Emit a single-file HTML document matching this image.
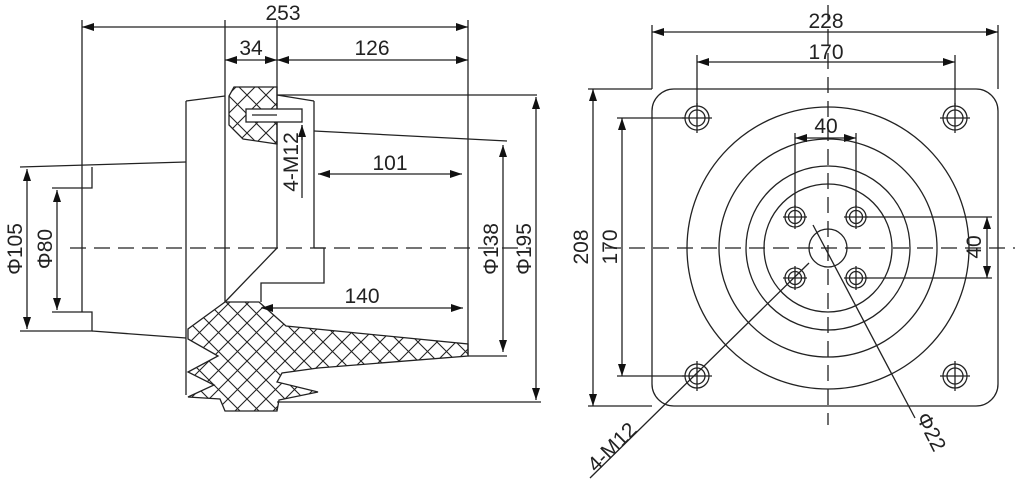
<!DOCTYPE html>
<html><head><meta charset="utf-8"><style>
html,body{margin:0;padding:0;background:#fff;}
svg{display:block;}
text{font-family:"Liberation Sans",sans-serif;font-size:21px;fill:#222;}
</style></head><body>
<svg width="1024" height="488" viewBox="0 0 1024 488" xmlns="http://www.w3.org/2000/svg">
<defs>
<marker id="a" viewBox="0 0 12 8" refX="12" refY="4" markerWidth="12" markerHeight="8" markerUnits="userSpaceOnUse" orient="auto-start-reverse"><path d="M0,0 L12,4 L0,8 Z" fill="#111"/></marker>
<pattern id="h" width="19" height="19" patternUnits="userSpaceOnUse">
<path d="M0,0 L19,19 M19,0 L0,19" stroke="#222" stroke-width="1.1"/></pattern>
</defs>
<g stroke="#222" stroke-width="1.3" fill="none">
<line x1="70" y1="248" x2="530" y2="248" stroke-dasharray="16,8"/>
<line x1="82" y1="20" x2="82" y2="312"/>
<polyline points="20,167 186,162"/>
<polyline points="92,167 92,188 52,188"/>
<polyline points="52,312 92,312 92,331 20,331"/>
<line x1="92" y1="331" x2="186" y2="338"/>
<line x1="186" y1="101" x2="186" y2="395"/>
<line x1="186" y1="101" x2="225" y2="96"/>
<line x1="225" y1="20" x2="225" y2="302"/>
<line x1="277" y1="20" x2="277" y2="248"/>
<path d="M234,87 L277,87 L277,144 L243,139 L229,125 L229,96 Z" fill="url(#h)"/>
<rect x="246" y="109" width="56" height="13" fill="#fff"/>
<line x1="252" y1="115" x2="277" y2="115"/>
<line x1="302" y1="125" x2="302" y2="198"/>
<line x1="302" y1="140" x2="302" y2="125" marker-end="url(#a)"/>
<line x1="277" y1="95" x2="314" y2="101"/>
<line x1="314" y1="101" x2="314" y2="248"/>
<line x1="314" y1="131" x2="507" y2="141"/>
<line x1="277" y1="95" x2="537" y2="95"/>
<polyline points="314,248 324,248 324,283 261,283 261,302"/>
<line x1="277" y1="248" x2="225" y2="302"/>
<line x1="468" y1="20" x2="468" y2="356"/>
<line x1="468" y1="356" x2="507" y2="356"/>
<line x1="277" y1="402" x2="541" y2="402"/>
<path d="M225,302 L259,302 L286,326 L468,344 L468,356 L318,368 L282,373 L277,382 L318,392 L279,400 L277,411 L225,411 L220,399 L188,397 L214,385 L188,372 L218,356 L188,339 L188,329 Z" fill="url(#h)"/>
<line x1="82" y1="27" x2="468" y2="27" marker-start="url(#a)" marker-end="url(#a)"/>
<line x1="225" y1="60" x2="277" y2="60" marker-start="url(#a)" marker-end="url(#a)"/>
<line x1="277" y1="60" x2="468" y2="60" marker-start="url(#a)" marker-end="url(#a)"/>
<line x1="318" y1="174" x2="462" y2="174" marker-start="url(#a)" marker-end="url(#a)"/>
<line x1="261" y1="308" x2="463" y2="308" marker-start="url(#a)" marker-end="url(#a)"/>
<line x1="503" y1="145" x2="503" y2="352" marker-start="url(#a)" marker-end="url(#a)"/>
<line x1="536" y1="97" x2="536" y2="400" marker-start="url(#a)" marker-end="url(#a)"/>
<line x1="27" y1="169" x2="27" y2="329" marker-start="url(#a)" marker-end="url(#a)"/>
<line x1="57" y1="190" x2="57" y2="310" marker-start="url(#a)" marker-end="url(#a)"/>
<rect x="652" y="89" width="346" height="317" rx="22"/>
<line x1="828" y1="5" x2="828" y2="425" stroke-dasharray="16,8"/>
<line x1="605" y1="248" x2="1015" y2="248" stroke-dasharray="16,8"/>
<circle cx="828" cy="248" r="141"/>
<circle cx="828" cy="248" r="109"/>
<circle cx="828" cy="248" r="82"/>
<circle cx="828" cy="248" r="64"/>
<circle cx="828" cy="248" r="19"/>
<g><circle cx="697" cy="118" r="12"/><circle cx="697" cy="118" r="8"/><line x1="682" y1="118" x2="712" y2="118"/><line x1="697" y1="103" x2="697" y2="133"/></g>
<g><circle cx="955" cy="118" r="12"/><circle cx="955" cy="118" r="8"/><line x1="940" y1="118" x2="970" y2="118"/><line x1="955" y1="103" x2="955" y2="133"/></g>
<g><circle cx="697" cy="376" r="12"/><circle cx="697" cy="376" r="8"/><line x1="682" y1="376" x2="712" y2="376"/><line x1="697" y1="361" x2="697" y2="391"/></g>
<g><circle cx="955" cy="376" r="12"/><circle cx="955" cy="376" r="8"/><line x1="940" y1="376" x2="970" y2="376"/><line x1="955" y1="361" x2="955" y2="391"/></g>
<g><circle cx="795" cy="217" r="10"/><circle cx="795" cy="217" r="6.5"/><line x1="783" y1="217" x2="807" y2="217"/><line x1="795" y1="205" x2="795" y2="229"/></g>
<g><circle cx="856" cy="217" r="10"/><circle cx="856" cy="217" r="6.5"/><line x1="844" y1="217" x2="868" y2="217"/><line x1="856" y1="205" x2="856" y2="229"/></g>
<g><circle cx="795" cy="278" r="10"/><circle cx="795" cy="278" r="6.5"/><line x1="783" y1="278" x2="807" y2="278"/><line x1="795" y1="266" x2="795" y2="290"/></g>
<g><circle cx="856" cy="278" r="10"/><circle cx="856" cy="278" r="6.5"/><line x1="844" y1="278" x2="868" y2="278"/><line x1="856" y1="266" x2="856" y2="290"/></g>
<line x1="652" y1="89" x2="652" y2="25"/><line x1="998" y1="89" x2="998" y2="25"/>
<line x1="652" y1="32" x2="998" y2="32" marker-start="url(#a)" marker-end="url(#a)"/>
<line x1="697" y1="106" x2="697" y2="55"/><line x1="955" y1="106" x2="955" y2="55"/>
<line x1="697" y1="62" x2="955" y2="62" marker-start="url(#a)" marker-end="url(#a)"/>
<line x1="795" y1="207" x2="795" y2="133"/><line x1="856" y1="207" x2="856" y2="133"/>
<line x1="795" y1="138" x2="856" y2="138" marker-start="url(#a)" marker-end="url(#a)"/>
<line x1="652" y1="89" x2="588" y2="89"/><line x1="652" y1="406" x2="588" y2="406"/>
<line x1="593" y1="89" x2="593" y2="406" marker-start="url(#a)" marker-end="url(#a)"/>
<line x1="685" y1="118" x2="617" y2="118"/><line x1="685" y1="376" x2="617" y2="376"/>
<line x1="622" y1="118" x2="622" y2="376" marker-start="url(#a)" marker-end="url(#a)"/>
<line x1="866" y1="217" x2="992" y2="217"/><line x1="866" y1="278" x2="992" y2="278"/>
<line x1="987" y1="217" x2="987" y2="278" marker-start="url(#a)" marker-end="url(#a)"/>
<line x1="809" y1="263" x2="590" y2="478"/>
<line x1="813" y1="225" x2="915" y2="418"/>
</g>
<g>
<text x="283" y="20" text-anchor="middle">253</text>
<text x="251" y="55" text-anchor="middle">34</text>
<text x="372" y="55" text-anchor="middle">126</text>
<text x="390" y="170" text-anchor="middle">101</text>
<text x="362" y="303" text-anchor="middle">140</text>
<text transform="translate(298,162) rotate(-90)" text-anchor="middle">4-M12</text>
<text transform="translate(22,249) rotate(-90)" text-anchor="middle">Φ105</text>
<text transform="translate(52,249) rotate(-90)" text-anchor="middle">Φ80</text>
<text transform="translate(498,249) rotate(-90)" text-anchor="middle">Φ138</text>
<text transform="translate(531,249) rotate(-90)" text-anchor="middle">Φ195</text>
<text x="826" y="28" text-anchor="middle">228</text>
<text x="826" y="59" text-anchor="middle">170</text>
<text x="826" y="133" text-anchor="middle">40</text>
<text transform="translate(588,247) rotate(-90)" text-anchor="middle">208</text>
<text transform="translate(617,247) rotate(-90)" text-anchor="middle">170</text>
<text transform="translate(981,247) rotate(-90)" text-anchor="middle">40</text>
<text transform="translate(617,452) rotate(-45)" text-anchor="middle">4-M12</text>
<text transform="translate(925,435) rotate(63)" text-anchor="middle">Φ22</text>
</g>
</svg>
</body></html>
